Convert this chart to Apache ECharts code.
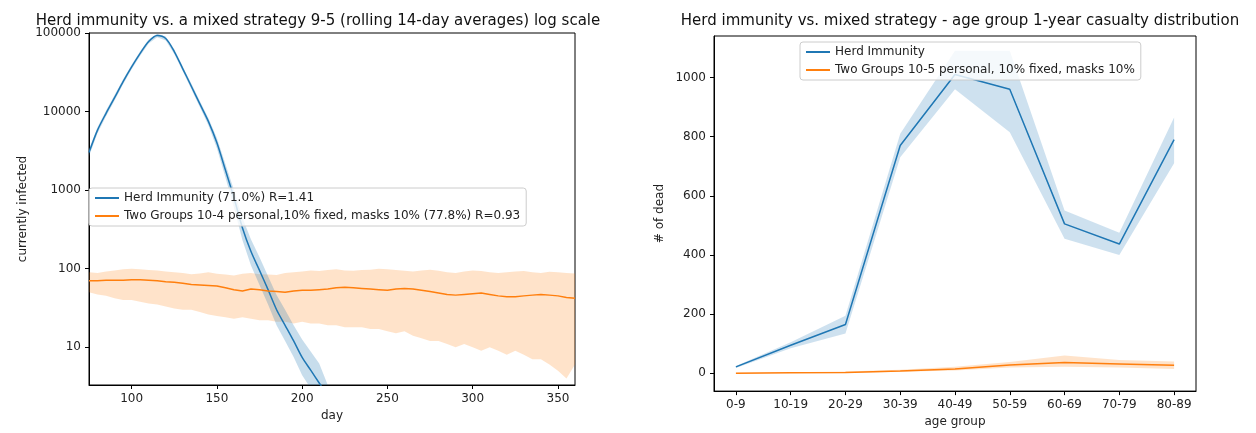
<!DOCTYPE html>
<html lang="en">
<head>
<meta charset="utf-8">
<title>Herd immunity</title>
<script src="https://cdn.jsdelivr.net/npm/echarts@6/dist/echarts.min.js"></script>
<style>body{margin:0;background:#fff}</style>
</head>
<body>
<div id="chart" style="width:1256px;height:433px;"></div>
<script>
// left chart: currently infected (log scale)
var blueDays = [75,80,85,90,95,100,105,110,115,120,125,130,135,140,145,150,155,160,165,170,175,180,185,190,195,200,205,210,215];
var blueMid  = [3000,5800,9500,15000,24000,37000,55000,78000,93000,85000,58000,35000,21000,12500,7500,4000,1800,800,330,165,95,54,30,19,12,7.4,5.1,3.5,2.4];
var blueHigh = [3300,6300,10300,16200,25800,39500,58500,82500,98000,90000,62000,37500,22800,13600,8300,4600,2150,1000,440,235,140,80,46,30,19,12.5,8.8,6.2,3.3];
var blueLow  = [2700,5300,8700,13800,22200,34500,51500,73500,88000,80000,54000,32500,19200,11400,6700,3400,1450,600,230,110,62,35,19,12,7.5,4.4,3,2,1.5];

var orangeDays = [];
for (var d = 75; d <= 360; d += 5) orangeDays.push(d);
var orangeMid  = [70,70,71,71,71,72,72,71,70,68,67,65,63,62,61,60,57,54,52,55,54,52,51,50,52,53,53,54,55,57,58,57,56,55,54,53,55,56,55,53,51,49,47,46,47,48,49,47,45,44,44,45,46,47,46,45,43,42];
var orangeHigh = [90,88,92,95,98,100,98,96,95,92,90,88,85,87,90,86,84,82,86,88,85,84,83,88,90,92,95,93,96,98,95,94,96,97,100,98,96,94,92,95,97,94,90,88,92,95,93,90,88,90,92,93,90,88,91,90,88,87];
var orangeLow  = [50,47,45,42,40,40,38,36,35,33,31,30,30,28,26,25,24,23,24,23,22,22,21,21,20,21,20,20,19,19,18,18,18,17,17,16,15,16,14,13,12,12,11,10,11,10,9,10,9,8,9,8,7,7,6,5,4,6];

// right chart: dead per age group
var ageGroups = ['0-9','10-19','20-29','30-39','40-49','50-59','60-69','70-79','80-89'];
var herdDead     = [22,95,165,770,1010,960,505,437,790];
var herdDeadHigh = [25,105,195,810,1090,1090,550,475,865];
var herdDeadLow  = [18,85,135,730,960,815,455,400,710];
var twoDead      = [0,2,3,8,15,28,37,32,27];
var twoDeadHigh  = [2,4,6,12,22,38,60,45,40];
var twoDeadLow   = [0,1,1,5,10,20,22,20,15];
var ageIdx = [0,1,2,3,4,5,6,7,8];

var BLUE = '#1f77b4', ORANGE = '#ff7f0e';
var font = 'DejaVu Sans';

function lg(v) { return Math.log10(v); }
function id(v) { return v; }
function pts(xs, ys, f) { return xs.map(function (x, i) { return [x, f(ys[i])]; }); }

// shaded band as one polygon, positioned through the axes
function band(xi, xs, lo, hi, color, f, opacity) {
    return {
        type: 'custom', xAxisIndex: xi, yAxisIndex: xi, silent: true, clip: true, z: 1,
        data: [[xs[0], f(lo[0])]],
        renderItem: function (params, api) {
            var top = xs.map(function (x, i) { return api.coord([x, f(hi[i])]); });
            var bot = xs.map(function (x, i) { return api.coord([x, f(lo[i])]); }).reverse();
            return {type: 'polygon', shape: {points: top.concat(bot)},
                    style: {fill: color, opacity: opacity}};
        }
    };
}

function axis(extra, vals, fmt) {
    return Object.assign({
        axisLine: {show: true, onZero: false, lineStyle: {color: '#000'}},
        axisTick: {show: true, length: 4, lineStyle: {color: '#000'}, customValues: vals},
        axisLabel: {color: '#222', fontFamily: font, fontSize: 12, customValues: vals, formatter: fmt},
        splitLine: {show: false},
        nameTextStyle: {color: '#222', fontFamily: font, fontSize: 12}
    }, extra);
}

var legendStyle = {orient: 'vertical', backgroundColor: 'rgba(255,255,255,0.8)', borderColor: '#ccc', borderWidth: 1,
    borderRadius: 3, padding: [4, 6], itemWidth: 24, itemHeight: 2, itemGap: 6, icon: 'rect',
    textStyle: {fontFamily: font, fontSize: 12, color: '#222'}};

var chart = echarts.init(document.getElementById('chart'));
var option = {
    animation: false,
    title: [
        {text: 'Herd immunity vs. a mixed strategy 9-5 (rolling 14-day averages) log scale', left: 313, top: 9, textAlign: 'center',
         textStyle: {fontFamily: font, fontSize: 15, fontWeight: 'normal', color: '#111'}},
        {text: 'Herd immunity vs. mixed strategy - age group 1-year casualty distribution', left: 955, top: 9, textAlign: 'center',
         textStyle: {fontFamily: font, fontSize: 15, fontWeight: 'normal', color: '#111'}}
    ],
    grid: [
        {left: 89, top: 33, width: 486, height: 352, show: true, borderColor: '#000', borderWidth: 1, backgroundColor: 'transparent'},
        {left: 714, top: 36, width: 482, height: 359, show: true, borderColor: '#000', borderWidth: 1, backgroundColor: 'transparent'}
    ],
    legend: [
        Object.assign({left: 89, top: 188, data: ['Herd Immunity (71.0%) R=1.41', 'Two Groups 10-4 personal,10% fixed, masks 10% (77.8%) R=0.93']}, legendStyle),
        Object.assign({left: 800, top: 42, data: ['Herd Immunity', 'Two Groups 10-5 personal, 10% fixed, masks 10%']}, legendStyle)
    ],
    xAxis: [
        axis({type: 'value', gridIndex: 0, min: 75, max: 360, name: 'day', nameLocation: 'middle', nameGap: 24},
             [100,150,200,250,300,350], function (v) { return String(v); }),
        axis({type: 'value', gridIndex: 1, min: -0.4, max: 8.4, name: 'age group', nameLocation: 'middle', nameGap: 24},
             ageIdx, function (v) { return ageGroups[Math.round(v)]; })
    ],
    yAxis: [
        axis({type: 'value', gridIndex: 0, min: lg(3.3), max: 5, name: 'currently infected', nameLocation: 'middle', nameGap: 60},
             [1,2,3,4,5], function (v) { return String(Math.round(Math.pow(10, v))); }),
        axis({type: 'value', gridIndex: 1, min: -60, max: 1140, name: '# of dead', nameLocation: 'middle', nameGap: 48},
             [0,200,400,600,800,1000], function (v) { return String(v); })
    ],
    series: [
        band(0, orangeDays, orangeLow, orangeHigh, ORANGE, lg, 0.22),
        band(0, blueDays, blueLow, blueHigh, BLUE, lg, 0.25),
        {type: 'line', name: 'Herd Immunity (71.0%) R=1.41', xAxisIndex: 0, yAxisIndex: 0, symbol: 'none', smooth: 0.3,
         color: BLUE, lineStyle: {width: 1.5, color: BLUE}, data: pts(blueDays, blueMid, lg)},
        {type: 'line', name: 'Two Groups 10-4 personal,10% fixed, masks 10% (77.8%) R=0.93', xAxisIndex: 0, yAxisIndex: 0, symbol: 'none',
         color: ORANGE, lineStyle: {width: 1.5, color: ORANGE}, data: pts(orangeDays, orangeMid, lg)},
        band(1, ageIdx, herdDeadLow, herdDeadHigh, BLUE, id, 0.22),
        band(1, ageIdx, twoDeadLow, twoDeadHigh, ORANGE, id, 0.22),
        {type: 'line', name: 'Herd Immunity', xAxisIndex: 1, yAxisIndex: 1, symbol: 'none',
         color: BLUE, lineStyle: {width: 1.5, color: BLUE}, data: pts(ageIdx, herdDead, id)},
        {type: 'line', name: 'Two Groups 10-5 personal, 10% fixed, masks 10%', xAxisIndex: 1, yAxisIndex: 1, symbol: 'none',
         color: ORANGE, lineStyle: {width: 1.5, color: ORANGE}, data: pts(ageIdx, twoDead, id)}
    ]
};
chart.setOption(option);
</script>
</body>
</html>
